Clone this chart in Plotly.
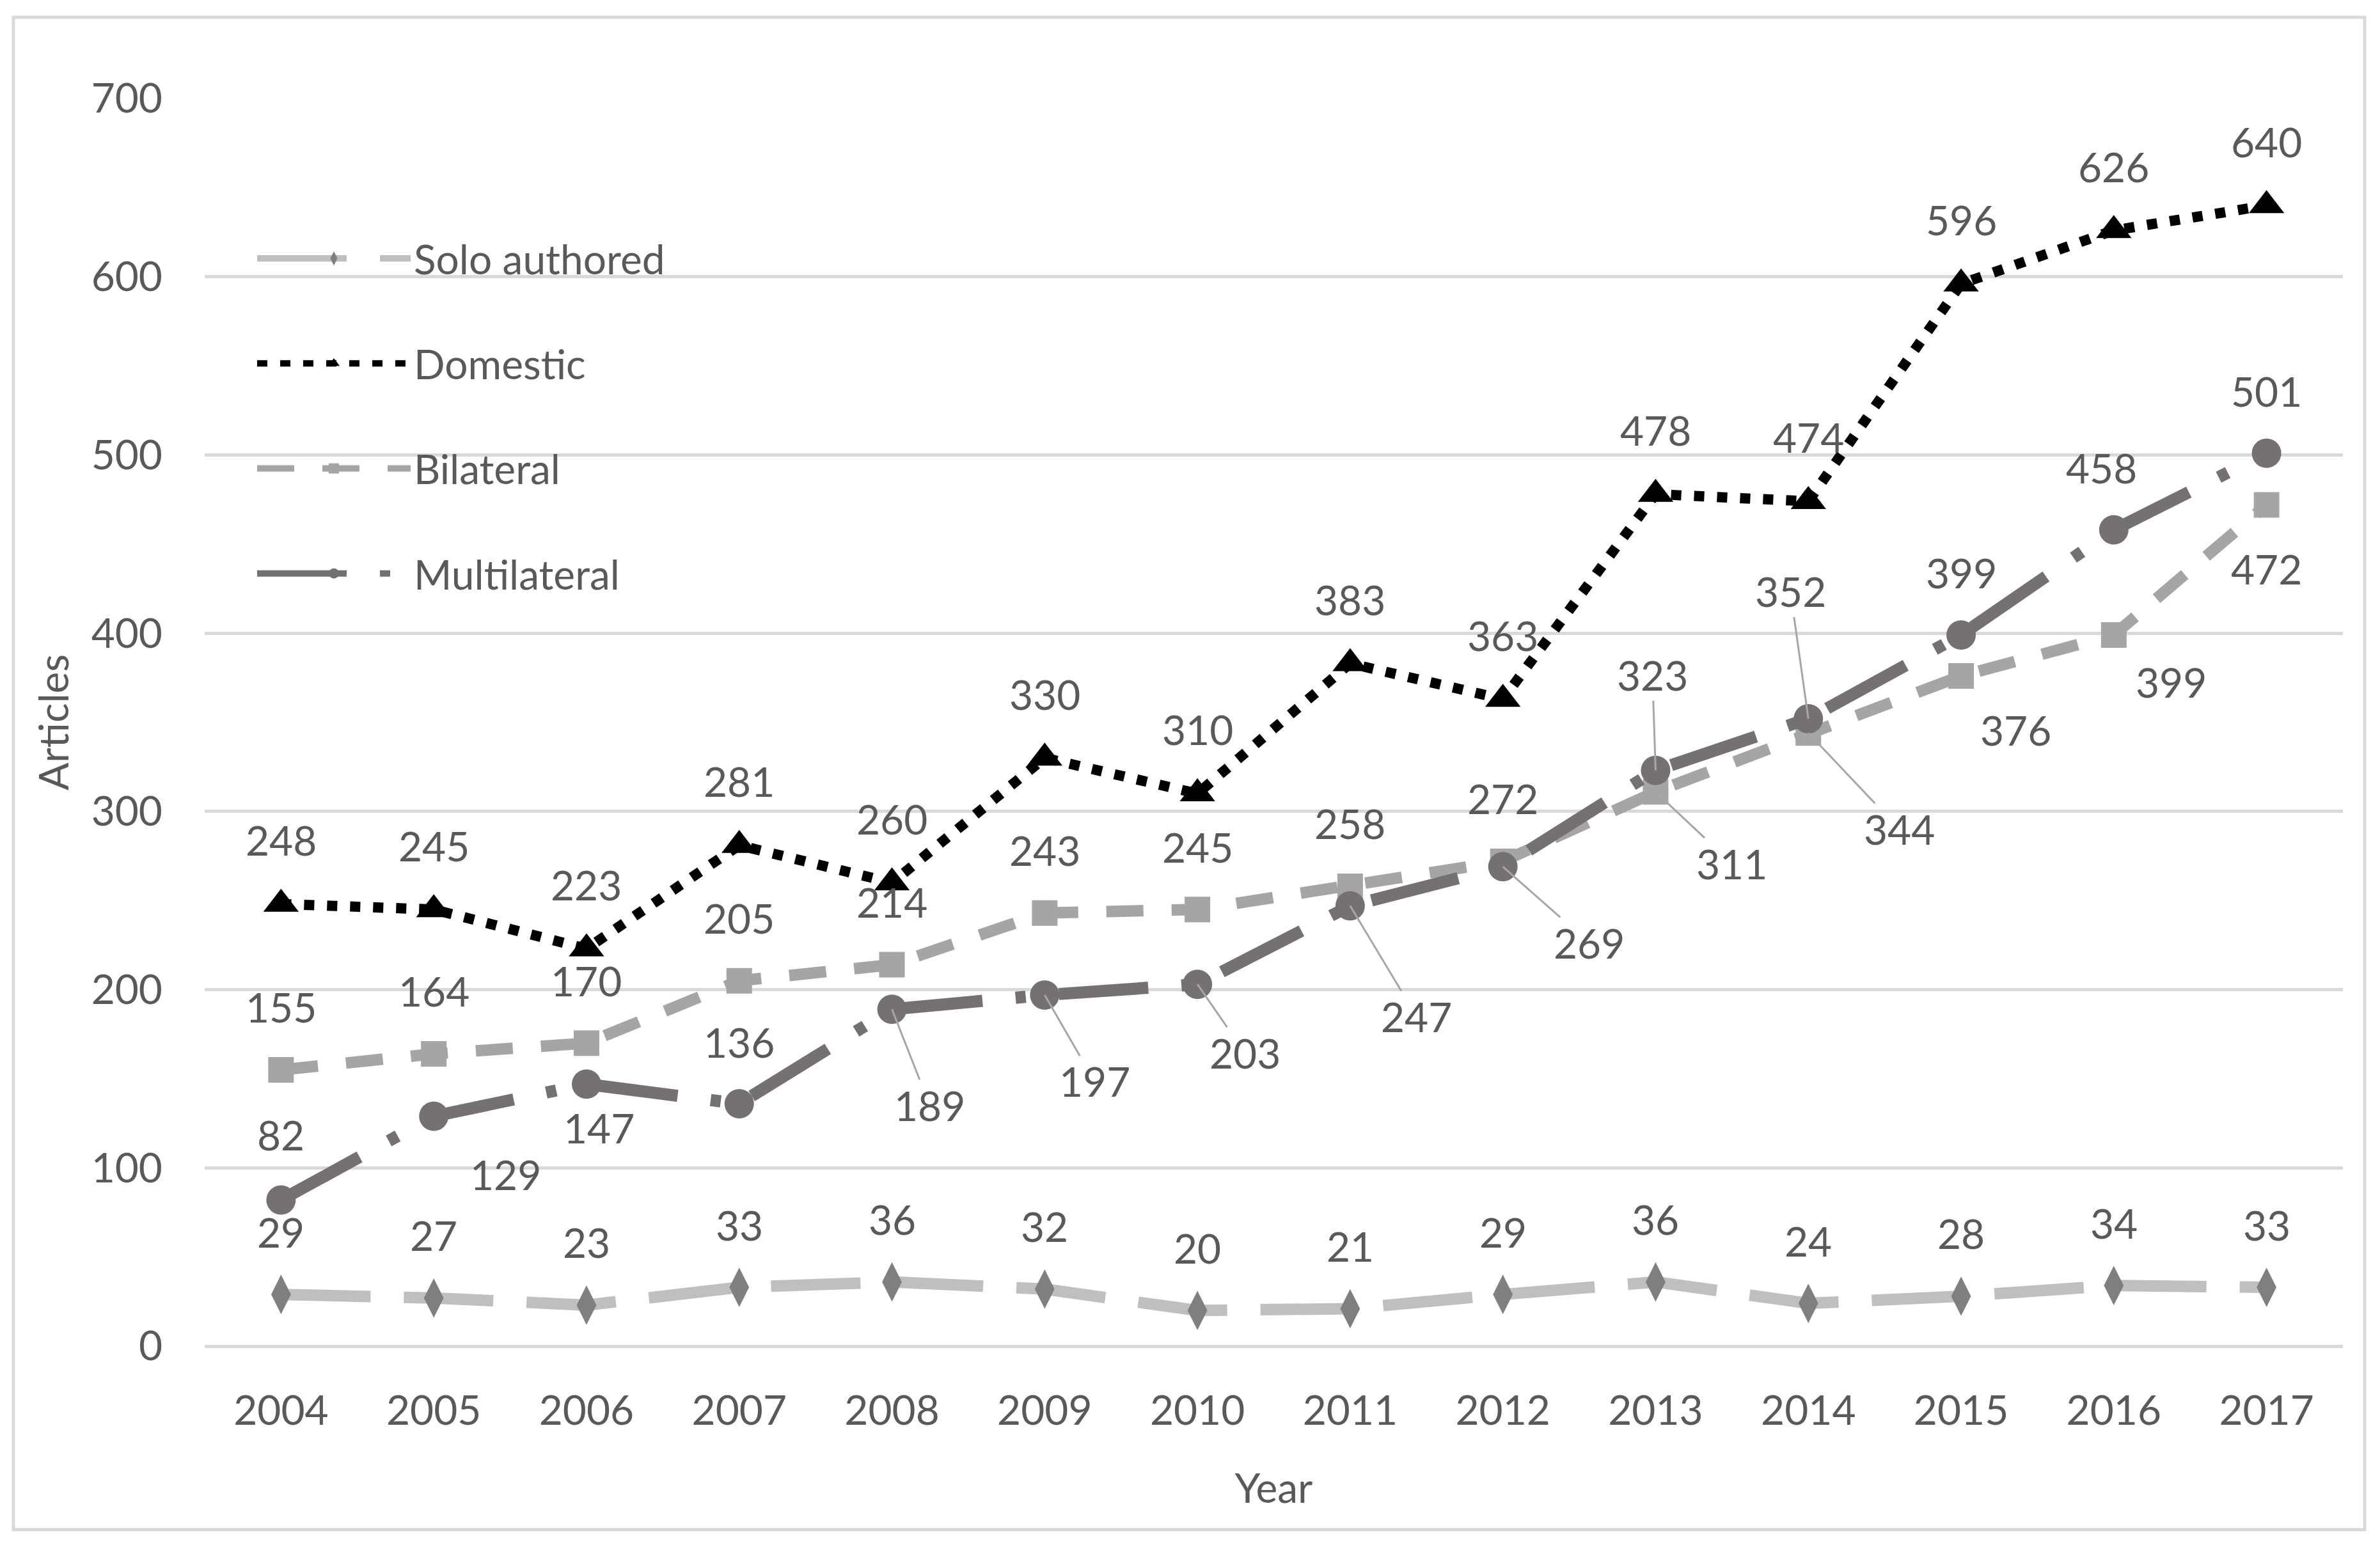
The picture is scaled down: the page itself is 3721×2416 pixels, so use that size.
import plotly.graph_objects as go

years = ["2004", "2005", "2006", "2007", "2008", "2009", "2010",
         "2011", "2012", "2013", "2014", "2015", "2016", "2017"]
solo = [29, 27, 23, 33, 36, 32, 20, 21, 29, 36, 24, 28, 34, 33]
domestic = [248, 245, 223, 281, 260, 330, 310, 383, 363, 478, 474, 596, 626, 640]
bilateral = [155, 164, 170, 205, 214, 243, 245, 258, 272, 311, 344, 376, 399, 472]
multilateral = [82, 129, 147, 136, 189, 197, 203, 247, 269, 323, 352, 399, 458, 501]

y_ticks = [0, 100, 200, 300, 400, 500, 600, 700]

# ---- layout / style (pixels) ----
W, H = 3721, 2416
PAGE = 8  # page body margin
L, R, T, B = 320 - PAGE, 3663 - PAGE, 154 - PAGE, 2105 - PAGE
FONT = "Lato"
TXT = "#595959"
FS = 64

# label offsets (dx, dy) in px, dy positive = down ; leader flags
up = (0, -98)
solo_off = [up] * 14
dom_off = [(0, -100)] * 14
bil_off = [up] * 9 + [(119, 112), (142, 150), (85, 84), (90, 74), (0, 100)]
bil_lead = [False] * 9 + [True, True, False, False, False]
mul_off = [(0, -102), (112, 91), (20, 68), (0, -96), (59, 150), (78, 135), (74, 107),
           (104, 173), (135, 119), (-5, -149), (-28, -199), (0, -97), (-19, -97), (0, -97)]
mul_lead = [False, False, False, False, True, True, True, True, True, True, True, False, False, False]

series = [
    dict(name="Solo authored", y=solo, lc="#BFBFBF", lw=18, dash="140px,52px",
         sym="diamond-tall", mc="#7F7F7F", ms=44, off=solo_off, lead=[False] * 14),
    dict(name="Domestic", y=domestic, lc="#000000", lw=16, dash="16px,20px",
         sym="triangle-up", mc="#000000", ms=48, off=dom_off, lead=[False] * 14),
    dict(name="Bilateral", y=bilateral, lc="#A5A5A5", lw=18, dash="58px,44px",
         sym="square", mc="#A5A5A5", ms=40, off=bil_off, lead=bil_lead),
    dict(name="Multilateral", y=multilateral, lc="#767171", lw=19, dash="140px,52px,16px,52px",
         sym="circle", mc="#767171", ms=46, off=mul_off, lead=mul_lead),
]

fig = go.Figure()
annotations = []
for i, s in enumerate(series):
    fig.add_trace(go.Scatter(
        x=years, y=s["y"], name=s["name"], mode="lines+markers",
        line=dict(color=s["lc"], width=s["lw"], dash=s["dash"]),
        marker=dict(symbol=s["sym"], color=s["mc"], size=s["ms"], line=dict(width=0)),
        legendgroup=f"g{i}",
    ))
    for k, (yv, (dx, dy), ld) in enumerate(zip(s["y"], s["off"], s["lead"])):
        if ld:
            annotations.append(dict(
                x=k, y=yv, xref="x", yref="y", text=str(yv), showarrow=True,
                ax=dx, ay=dy, arrowhead=0, arrowwidth=3, arrowcolor="#A6A6A6",
                standoff=0,
                font=dict(family=FONT, size=FS, color=TXT)))
        else:
            annotations.append(dict(
                x=k, y=yv, xref="x", yref="y", text=str(yv), showarrow=False,
                xshift=dx, yshift=-dy,
                font=dict(family=FONT, size=FS, color=TXT)))

pw, ph = R - L, B - T
def px(x):
    return (x - PAGE - L) / pw
def py(y):
    return (B - (y - PAGE)) / ph

fig.update_layout(
    width=W, height=H,
    margin=dict(l=L, r=W - R, t=T, b=H - B, pad=0),
    paper_bgcolor="white", plot_bgcolor="white",
    font=dict(family=FONT, size=FS, color=TXT),
    showlegend=True,
    legend=dict(x=px(397), y=py(356), xanchor="left", yanchor="top",
                bgcolor="rgba(0,0,0,0)", borderwidth=0,
                font=dict(family=FONT, size=FS, color=TXT),
                tracegroupgap=78, itemwidth=240, traceorder="grouped"),
    annotations=annotations,
    shapes=[dict(type="rect", xref="paper", yref="paper",
                 x0=px(21), x1=px(3697), y0=py(2392), y1=py(27),
                 line=dict(color="#D9D9D9", width=5), fillcolor="rgba(0,0,0,0)",
                 layer="below")],
    xaxis=dict(type="category", range=[-0.5, len(years) - 0.5], showgrid=False,
               showline=False, zeroline=False, ticks="",
               tickfont=dict(family=FONT, size=FS, color=TXT), ticklabelstandoff=58,
               title=dict(text="Year", font=dict(family=FONT, size=FS, color=TXT), standoff=64)),
    yaxis=dict(range=[0, 700], tickvals=y_ticks, showgrid=True, gridcolor="#D9D9D9", gridwidth=5,
               zeroline=True, zerolinecolor="#D9D9D9", zerolinewidth=5, showline=False, ticks="",
               tickfont=dict(family=FONT, size=FS, color=TXT), ticklabelstandoff=65,
               title=dict(text="Articles", font=dict(family=FONT, size=FS, color=TXT), standoff=14)),
)

fig.write_html("out.html")
